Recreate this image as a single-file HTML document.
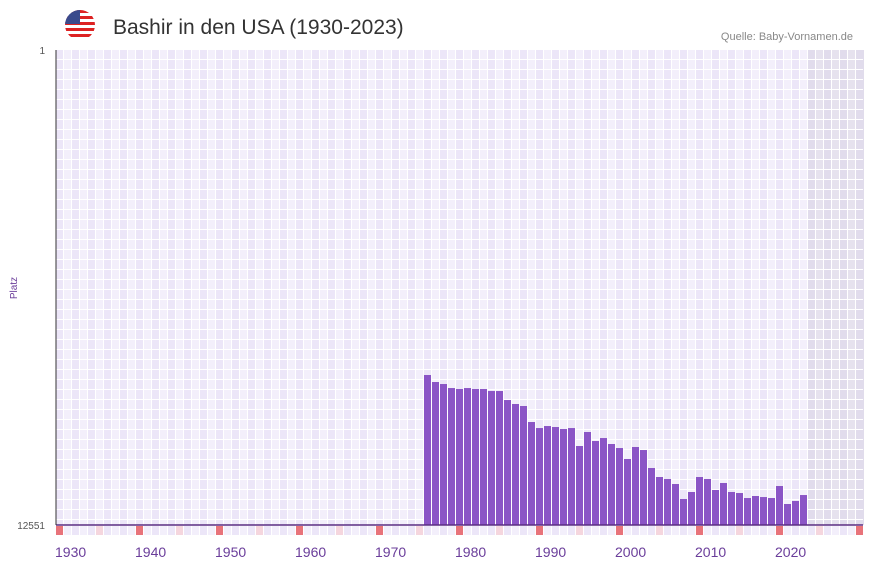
<!DOCTYPE html>
<html><head><meta charset="utf-8"><style>
body{margin:0;background:#fff;width:873px;height:567px;overflow:hidden;font-family:"Liberation Sans",sans-serif}
</style></head><body>
<svg id="c" width="873" height="567" xmlns="http://www.w3.org/2000/svg">
<defs><clipPath id="fc"><circle cx="80" cy="25" r="15"/></clipPath></defs>
<g clip-path="url(#fc)">
<rect x="65" y="10" width="30" height="30" fill="#fff"/>
<rect x="65" y="10" width="30" height="3" fill="#d22"/><rect x="65" y="16" width="30" height="3" fill="#d22"/>
<rect x="65" y="22" width="30" height="3" fill="#d22"/><rect x="65" y="28" width="30" height="3" fill="#d22"/>
<rect x="65" y="34" width="30" height="3" fill="#d22"/>
<rect x="65" y="10" width="15" height="14" fill="#3a4a8c"/>
</g>
<text x="113" y="34" font-size="21" fill="#333">Bashir in den USA (1930-2023)</text>
<text x="853" y="40" font-size="11" fill="#888" text-anchor="end">Quelle: Baby-Vornamen.de</text>
<text x="45" y="54" font-size="10" fill="#555" text-anchor="end">1</text>
<text x="45" y="529" font-size="10" fill="#555" text-anchor="end">12551</text>
<text transform="translate(17,288) rotate(-90)" font-size="10" fill="#6a3d9a" text-anchor="middle">Platz</text>
<g id="grid"></g><g id="bars"></g><g id="strip"></g><g id="xl"></g>
<line x1="56" y1="525" x2="863" y2="525" stroke="#5a2d82" stroke-width="1.5"/>
<line x1="56" y1="50" x2="56" y2="525" stroke="#333" stroke-width="1"/>
</svg>
<script>
const startYear=1976;
const ranks=[8588,8773,8826,8932,8958,8932,8958,8958,9011,9011,9249,9354,9407,9830,9989,9936,9962,10015,9989,10464,10094,10332,10253,10411,10517,10807,10490,10570,11045,11283,11336,11468,11864,11679,11283,11336,11626,11441,11679,11706,11838,11785,11812,11838,11521,11996,11917,11759];
const xTicks=[1930,1940,1950,1960,1970,1980,1990,2000,2010,2020];
const NS="http://www.w3.org/2000/svg";
const x0=56,cw=8,yTop=50,yBot=525,minR=1,maxR=12551,firstYear=1930;
function xs(y){return x0+(y-firstYear)*cw;}
function ys(r){return yTop+(r-minR)/(maxR-minR)*(yBot-yTop);}
function mk(t,a,p){const e=document.createElementNS(NS,t);for(const k in a)e.setAttribute(k,a[k]);p.appendChild(e);return e;}
const grid=document.getElementById('grid');
for(let c=0;c<101;c++){
  const g=c>=94;
  const fill=g?(c%2?'#e6e2ee':'#e1dcec'):(c%2?'#f3effb':'#ece6f8');
  const col=mk('rect',{x:x0+c*cw,y:yTop,width:cw,height:yBot-yTop,fill:fill},grid);
  
  
}
for(let y=yTop+9.5;y<yBot;y+=10){mk('line',{x1:x0,x2:863,y1:y,y2:y,stroke:'#fff','stroke-width':1},grid);}
for(let c=1;c<101;c++){mk('line',{x1:x0+c*cw-0.5,x2:x0+c*cw-0.5,y1:yTop,y2:yBot,stroke:'#fff','stroke-width':1},grid);}
const bars=document.getElementById('bars');
ranks.forEach((r,i)=>{
  const yr=startYear+i,x=xs(yr),y=ys(r);
  const b=mk('rect',{x:x,y:y,width:cw-1,height:yBot-y,fill:'#8b55c6'},bars);
  
  
});
const strip=document.getElementById('strip');
for(let c=0;c<101;c++){
  let f=c%10==0?'#e8737a':(c%10==5?'#f5d6de':(c%2?'#f3effb':'#ece6f8'));
  const s=mk('rect',{x:x0+c*cw,y:526,width:cw-1,height:9,fill:f},strip);
  
  
}
const xl=document.getElementById('xl');
xTicks.forEach(t=>{
  const e=mk('text',{x:xs(t)-1,y:557,'font-size':14,fill:'#6a3d9a'},xl);
  e.textContent=t;
  
  
});
</script>
</body></html>
